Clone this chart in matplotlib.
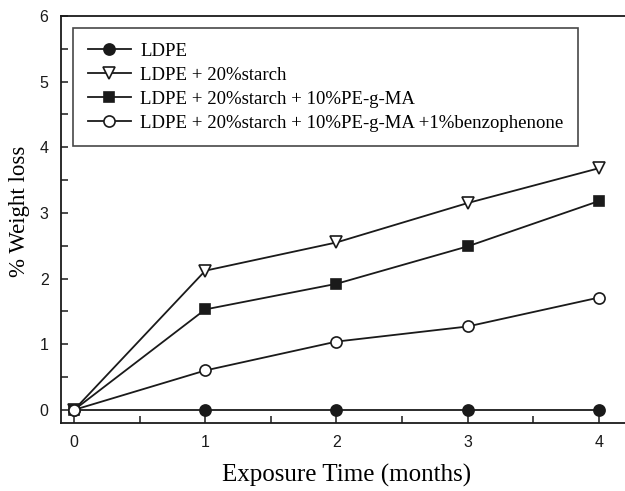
import matplotlib
matplotlib.use("Agg")
import matplotlib.pyplot as plt
from matplotlib.ticker import MultipleLocator

months = [0, 1, 2, 3, 4]
ldpe = [0.0, 0.0, 0.0, 0.0, 0.0]
ldpe_starch = [0.0, 2.12, 2.55, 3.15, 3.68]
ldpe_starch_pegma = [0.0, 1.53, 1.92, 2.49, 3.18]
ldpe_starch_pegma_bp = [0.0, 0.60, 1.04, 1.27, 1.71]

labels = [
    "LDPE",
    "LDPE + 20%starch",
    "LDPE + 20%starch + 10%PE-g-MA",
    "LDPE + 20%starch + 10%PE-g-MA +1%benzophenone",
]

serif = ["Liberation Serif", "DejaVu Serif"]
sans = ["Liberation Sans", "DejaVu Sans"]

fig = plt.figure(figsize=(6.25, 4.91), dpi=100)
ax = fig.add_axes([0.0976, 0.1385, 0.9024, 0.8290])

lc = "#1a1a1a"
kw = dict(color=lc, lw=1.3, markeredgewidth=1.2, markeredgecolor=lc)
ax.plot(months, ldpe, marker="o", markersize=8, markerfacecolor=lc, label=labels[0], **kw)
ax.plot(months, ldpe_starch, marker="v", markersize=8, markerfacecolor="white", label=labels[1], **kw)
ax.plot(months, ldpe_starch_pegma, marker="s", markersize=7.5, markerfacecolor=lc, label=labels[2], **kw)
ax.plot(months, ldpe_starch_pegma_bp, marker="o", markersize=8, markerfacecolor="white", label=labels[3], **kw)

ax.set_xlim(-0.1, 4.2)
ax.set_ylim(-0.2, 6)
ax.xaxis.set_major_locator(MultipleLocator(1))
ax.xaxis.set_minor_locator(MultipleLocator(0.5))
ax.yaxis.set_major_locator(MultipleLocator(1))
ax.yaxis.set_minor_locator(MultipleLocator(0.5))
ax.tick_params(which="both", direction="in", length=5, width=1.1, colors=lc,
               labelsize=11.5, pad=9)
for lab in ax.get_xticklabels() + ax.get_yticklabels():
    lab.set_fontfamily(sans)
ax.spines["right"].set_visible(False)
for s in ("left", "bottom", "top"):
    ax.spines[s].set_linewidth(1.3)
    ax.spines[s].set_color(lc)

ax.set_xlabel("Exposure Time (months)", fontfamily=serif, fontsize=18, va="center")
ax.xaxis.set_label_coords(0.5056, -0.128)
ax.set_ylabel("% Weight loss", fontfamily=serif, fontsize=16.5, va="center")
ax.yaxis.set_label_coords(-0.073, 0.52)

leg = ax.legend(loc="upper left", bbox_to_anchor=(0.0213, 0.97), prop={"family": serif, "size": 13.5},
                frameon=True, fancybox=False, edgecolor=lc, handlelength=2.3,
                borderpad=0.78, labelspacing=0.36, handletextpad=0.5, borderaxespad=0)
leg.get_frame().set_linewidth(1.2)

fig.savefig("out.png", dpi=100)
